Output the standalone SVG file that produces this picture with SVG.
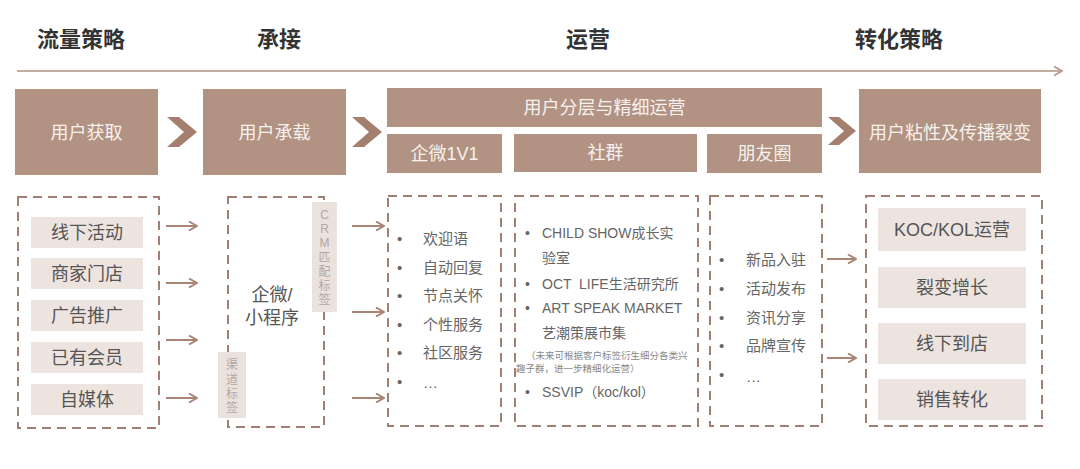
<svg xmlns="http://www.w3.org/2000/svg" width="1080" height="469" viewBox="0 0 1080 469">
<defs>
<style>
text{font-family:"Liberation Sans","Noto Sans CJK SC",sans-serif;}
.title{font-size:22px;font-weight:700;fill:#333;text-anchor:middle;}
.hd{fill:#b29383;}
.hdt{font-size:18px;fill:#f7f1ee;text-anchor:middle;}
.dash{fill:none;stroke:#a08072;stroke-width:2;stroke-dasharray:9 6;}
.item{fill:#ede4e0;}
.itt{font-size:18px;fill:#555;text-anchor:middle;}
.tag{fill:#ebe2de;}
.tagt{font-size:12px;fill:#b3a7a3;text-anchor:middle;}
.li{font-size:15px;fill:#666;}
.li2{font-size:14px;fill:#666;white-space:pre;}
.note{font-size:9.5px;fill:#888;}
.chev{fill:#a47f6d;}
.arr{fill:none;stroke:#a98576;stroke-width:2;}
.tl{fill:none;stroke:#c4aca1;stroke-width:2;}
</style>
<marker id="ah" viewBox="0 0 10 10" refX="9" refY="5" markerWidth="10" markerHeight="10" markerUnits="userSpaceOnUse" orient="auto">
<path d="M1,0.5 L9,5 L1,9.5" fill="none" stroke="#a98576" stroke-width="2"/>
</marker>
<marker id="ah2" viewBox="0 0 10 10" refX="9" refY="5" markerWidth="10" markerHeight="10" markerUnits="userSpaceOnUse" orient="auto">
<path d="M1,0.5 L9,5 L1,9.5" fill="none" stroke="#b79d91" stroke-width="2"/>
</marker>
</defs>
<rect width="1080" height="469" fill="#ffffff"/>

<g id="titles">
<text class="title" x="81" y="47">流量策略</text>
<text class="title" x="279" y="47">承接</text>
<text class="title" x="588" y="47">运营</text>
<text class="title" x="899" y="47">转化策略</text>
</g>

<g id="connectors">
<line class="tl" x1="17" y1="71" x2="1062" y2="71" marker-end="url(#ah2)"/>
<polygon class="chev" points="167,117 179,117 197,132 179,147 167,147 184,132"/>
<polygon class="chev" points="352,117 364,117 382,132 364,147 352,147 369,132"/>
<polygon class="chev" points="828,117 839,117 856,131 839,145 828,145 844,131"/>
<line class="arr" x1="166" y1="226" x2="197" y2="226" marker-end="url(#ah)"/>
<line class="arr" x1="166" y1="283" x2="197" y2="283" marker-end="url(#ah)"/>
<line class="arr" x1="166" y1="340" x2="197" y2="340" marker-end="url(#ah)"/>
<line class="arr" x1="166" y1="398" x2="197" y2="398" marker-end="url(#ah)"/>
<line class="arr" x1="352" y1="226" x2="384" y2="226" marker-end="url(#ah)"/>
<line class="arr" x1="352" y1="312" x2="384" y2="312" marker-end="url(#ah)"/>
<line class="arr" x1="352" y1="398" x2="384" y2="398" marker-end="url(#ah)"/>
<line class="arr" x1="827" y1="259" x2="856" y2="259" marker-end="url(#ah)"/>
<line class="arr" x1="827" y1="358" x2="856" y2="358" marker-end="url(#ah)"/>
</g>

<g id="user-acquire">
<rect class="hd" x="15" y="89" width="143" height="86"/>
<text class="hdt" x="86.5" y="139">用户获取</text>
</g>
<g id="user-carry">
<rect class="hd" x="203" y="89" width="143" height="86"/>
<text class="hdt" x="274.5" y="139">用户承载</text>
</g>
<g id="user-layer">
<rect class="hd" x="387" y="88" width="435" height="39"/>
<text class="hdt" x="604.5" y="114">用户分层与精细运营</text>
</g>
<g id="qiwei-1v1">
<rect class="hd" x="387" y="134" width="115" height="39"/>
<text class="hdt" x="444.5" y="160">企微1V1</text>
</g>
<g id="shequn">
<rect class="hd" x="514" y="134" width="183" height="38"/>
<text class="hdt" x="605.5" y="159">社群</text>
</g>
<g id="pengyouquan">
<rect class="hd" x="707" y="134" width="115" height="39"/>
<text class="hdt" x="764.5" y="160">朋友圈</text>
</g>
<g id="user-sticky">
<rect class="hd" x="859" y="89" width="182" height="84"/>
<text class="hdt" x="950" y="139">用户粘性及传播裂变</text>
</g>

<g id="sources">
<rect class="dash" x="18" y="197" width="141" height="231"/>
<rect class="item" x="31" y="217" width="112" height="31"/>
<text class="itt" x="87" y="239">线下活动</text>
<rect class="item" x="31" y="258" width="112" height="31"/>
<text class="itt" x="87" y="280">商家门店</text>
<rect class="item" x="31" y="300" width="112" height="31"/>
<text class="itt" x="87" y="322">广告推广</text>
<rect class="item" x="31" y="342" width="112" height="31"/>
<text class="itt" x="87" y="364">已有会员</text>
<rect class="item" x="31" y="384" width="112" height="31"/>
<text class="itt" x="87" y="406">自媒体</text>
</g>

<g id="carrier">
<rect class="dash" x="228" y="197" width="96" height="230"/>
<text class="itt" x="272" y="301">企微/</text>
<text class="itt" x="272" y="324">小程序</text>
<rect class="tag" x="312" y="202" width="25" height="110"/>
<text class="tagt" x="324.5" y="219">C</text>
<text class="tagt" x="324.5" y="233">R</text>
<text class="tagt" x="324.5" y="247">M</text>
<text class="tagt" x="324.5" y="262">匹</text>
<text class="tagt" x="324.5" y="276">配</text>
<text class="tagt" x="324.5" y="290">标</text>
<text class="tagt" x="324.5" y="304">签</text>
<rect class="tag" x="218" y="352" width="28" height="66"/>
<text class="tagt" x="232" y="369">渠</text>
<text class="tagt" x="232" y="384">道</text>
<text class="tagt" x="232" y="398">标</text>
<text class="tagt" x="232" y="412">签</text>
</g>

<g id="qiwei-list">
<rect class="dash" x="388" y="196" width="113" height="230"/>
<text class="li" x="397" y="244">•</text><text class="li" x="423" y="244">欢迎语</text>
<text class="li" x="397" y="273">•</text><text class="li" x="423" y="273">自动回复</text>
<text class="li" x="397" y="301">•</text><text class="li" x="423" y="301">节点关怀</text>
<text class="li" x="397" y="330">•</text><text class="li" x="423" y="330">个性服务</text>
<text class="li" x="397" y="358">•</text><text class="li" x="423" y="358">社区服务</text>
<text class="li" x="397" y="387">•</text><text class="li" x="423" y="388">…</text>
</g>

<g id="shequn-list">
<rect class="dash" x="515" y="196" width="183" height="230"/>
<text class="li2" x="525" y="238">•</text><text class="li2" x="542" y="238">CHILD SHOW成长实</text>
<text class="li2" x="542" y="263">验室</text>
<text class="li2" x="525" y="289">•</text><text class="li2" x="542" y="289" xml:space="preserve">OCT  LIFE生活研究所</text>
<text class="li2" x="525" y="313">•</text><text class="li2" x="542" y="313">ART SPEAK MARKET</text>
<text class="li2" x="542" y="338">艺潮策展市集</text>
<text class="note" x="526" y="359">（未来可根据客户标签衍生细分各类兴</text>
<text class="note" x="516" y="372">趣子群，进一步精细化运营）</text>
<text class="li2" x="525" y="397">•</text><text class="li2" x="542" y="397">SSVIP（koc/kol）</text>
</g>

<g id="pyq-list">
<rect class="dash" x="710" y="196" width="112" height="230"/>
<text class="li" x="719" y="265">•</text><text class="li" x="746" y="265">新品入驻</text>
<text class="li" x="719" y="294">•</text><text class="li" x="746" y="294">活动发布</text>
<text class="li" x="719" y="323">•</text><text class="li" x="746" y="323">资讯分享</text>
<text class="li" x="719" y="351">•</text><text class="li" x="746" y="351">品牌宣传</text>
<text class="li" x="719" y="380">•</text><text class="li" x="746" y="382">…</text>
</g>

<g id="conversion">
<rect class="dash" x="866" y="196" width="176" height="230"/>
<rect class="item" x="878" y="208" width="148" height="43"/>
<text class="itt" x="952" y="236">KOC/KOL运营</text>
<rect class="item" x="878" y="267" width="148" height="41"/>
<text class="itt" x="952" y="294">裂变增长</text>
<rect class="item" x="878" y="323" width="148" height="41"/>
<text class="itt" x="952" y="350">线下到店</text>
<rect class="item" x="878" y="379" width="148" height="41"/>
<text class="itt" x="952" y="406">销售转化</text>
</g>
</svg>
